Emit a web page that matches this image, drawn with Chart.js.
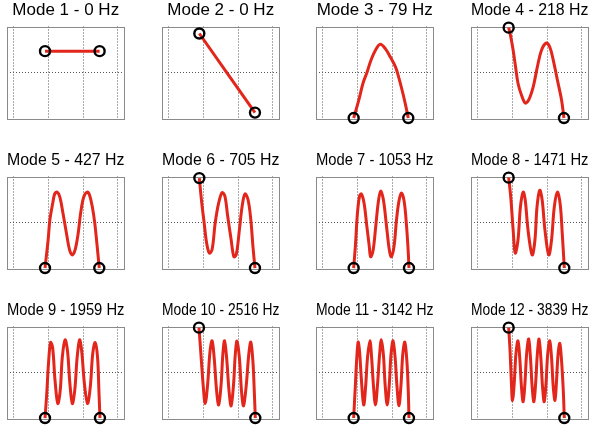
<!DOCTYPE html>
<html><head><meta charset="utf-8">
<script src="https://cdn.jsdelivr.net/npm/chart.js@4/dist/chart.umd.min.js"></script>
<style>
html,body{margin:0;padding:0;background:#fff;width:600px;height:425px;overflow:hidden}
#wrap{position:relative;width:600px;height:425px}
#wrap canvas{position:absolute}
</style></head><body><div id="wrap"></div>
<script>
// ---- data ----
const modeNumbers = [1,2,3,4,5,6,7,8,9,10,11,12];
const modeFreqsHz = [0,0,79,218,427,705,1053,1471,1959,2516,3142,3839];
const xGridTicks = [0,1,2,3];
const yGridTicks = [0];

const shape1 = [[0.90,0.48],[2.48,0.48]];
const shape2 = [[0.88,0.87],[2.49,-0.88]];
const shape3 = [[0.89,-1.0],[1.04,-0.60],[1.16,-0.23],[1.28,0.02],[1.39,0.28],[1.52,0.50],[1.66,0.63],[1.81,0.53],[1.95,0.35],[2.10,0.13],[2.19,-0.09],[2.29,-0.38],[2.38,-0.67],[2.47,-1.0]];
const shape4 = [[0.89,1.0],[0.95,0.80],[1.02,0.50],[1.09,0.13],[1.16,-0.23],[1.26,-0.49],[1.37,-0.67],[1.47,-0.60],[1.60,-0.31],[1.72,0.13],[1.84,0.50],[1.98,0.66],[2.08,0.57],[2.18,0.28],[2.30,-0.16],[2.42,-0.60],[2.49,-1.0]];
const shape5 = [[0.90,-1.0],[0.99,-0.38],[1.04,0.06],[1.12,0.42],[1.18,0.64],[1.25,0.68],[1.33,0.57],[1.42,0.21],[1.52,-0.23],[1.61,-0.60],[1.69,-0.71],[1.77,-0.60],[1.86,-0.23],[1.93,0.21],[2.02,0.57],[2.12,0.68],[2.19,0.61],[2.27,0.35],[2.34,-0.01],[2.40,-0.45],[2.47,-1.0]];
const shape6 = [[0.88,0.99],[0.95,0.44],[1.02,0.0],[1.09,-0.44],[1.17,-0.67],[1.25,-0.59],[1.34,0.0],[1.44,0.44],[1.54,0.67],[1.62,0.59],[1.70,0.15],[1.80,-0.37],[1.88,-0.75],[1.95,-0.70],[2.04,-0.15],[2.12,0.37],[2.20,0.64],[2.29,0.51],[2.37,0.07],[2.43,-0.51],[2.49,-1.0]];
const shape7 = [[0.89,-1.0],[0.94,-0.51],[1.00,0.22],[1.06,0.59],[1.11,0.64],[1.19,0.44],[1.27,-0.07],[1.34,-0.51],[1.38,-0.75],[1.45,-0.62],[1.53,-0.07],[1.60,0.44],[1.67,0.70],[1.75,0.51],[1.84,-0.07],[1.92,-0.59],[1.98,-0.75],[2.06,-0.51],[2.13,0.07],[2.20,0.48],[2.27,0.66],[2.35,0.48],[2.42,-0.07],[2.47,-0.66],[2.49,-1.0]];
const shape8 = [[0.89,1.0],[0.95,0.57],[1.02,-0.16],[1.08,-0.67],[1.16,-0.38],[1.23,0.35],[1.31,0.68],[1.37,0.50],[1.45,-0.16],[1.57,-0.71],[1.65,-0.38],[1.71,0.35],[1.79,0.72],[1.86,0.50],[1.94,-0.16],[2.05,-0.71],[2.13,-0.38],[2.21,0.35],[2.30,0.68],[2.38,0.42],[2.44,-0.23],[2.50,-1.0]];
const shape9 = [[0.90,-1.0],[0.95,-0.46],[1.00,0.20],[1.06,0.67],[1.12,0.56],[1.19,-0.17],[1.27,-0.68],[1.34,-0.39],[1.40,0.34],[1.48,0.73],[1.55,0.49],[1.62,-0.24],[1.69,-0.68],[1.76,-0.39],[1.83,0.34],[1.90,0.73],[1.96,0.49],[2.04,-0.24],[2.13,-0.68],[2.21,-0.31],[2.28,0.42],[2.35,0.67],[2.42,0.34],[2.46,-0.40],[2.49,-1.0]];
const shape10 = [[0.87,1.0],[0.92,0.48],[0.99,-0.26],[1.05,-0.68],[1.12,-0.26],[1.19,0.48],[1.25,0.71],[1.31,0.33],[1.38,-0.40],[1.44,-0.71],[1.51,-0.26],[1.56,0.40],[1.61,0.71],[1.67,0.33],[1.74,-0.40],[1.80,-0.73],[1.87,-0.26],[1.92,0.40],[1.97,0.70],[2.04,0.33],[2.10,-0.40],[2.16,-0.73],[2.24,-0.26],[2.31,0.40],[2.37,0.68],[2.43,0.26],[2.47,-0.40],[2.50,-1.0]];
const shape11 = [[0.89,-1.0],[0.94,-0.26],[0.98,0.33],[1.02,0.68],[1.06,0.48],[1.11,-0.11],[1.18,-0.71],[1.24,-0.26],[1.29,0.33],[1.36,0.71],[1.41,0.33],[1.46,-0.26],[1.52,-0.71],[1.58,-0.26],[1.64,0.40],[1.69,0.73],[1.75,0.40],[1.80,-0.26],[1.86,-0.71],[1.92,-0.26],[1.97,0.40],[2.03,0.71],[2.09,0.33],[2.14,-0.26],[2.20,-0.73],[2.26,-0.26],[2.31,0.40],[2.37,0.68],[2.43,0.26],[2.47,-0.40],[2.49,-1.0]];
const shape12 = [[0.89,1.0],[0.93,0.49],[0.97,-0.24],[1.00,-0.62],[1.05,-0.24],[1.10,0.42],[1.16,0.71],[1.21,0.34],[1.26,-0.31],[1.31,-0.64],[1.36,-0.24],[1.41,0.42],[1.47,0.75],[1.52,0.34],[1.57,-0.31],[1.62,-0.64],[1.67,-0.24],[1.72,0.42],[1.77,0.75],[1.82,0.34],[1.87,-0.31],[1.92,-0.64],[1.97,-0.24],[2.02,0.42],[2.08,0.71],[2.13,0.34],[2.18,-0.31],[2.23,-0.61],[2.27,-0.24],[2.32,0.42],[2.37,0.65],[2.42,0.27],[2.47,-0.39],[2.50,-1.0]];

const shapes = [shape1,shape2,shape3,shape4,shape5,shape6,shape7,shape8,shape9,shape10,shape11,shape12];

// ---- drawing ----
const FONT = "'Liberation Sans', Arial, Helvetica, sans-serif";
const boxPlugin = {
  id: 'axBox',
  beforeDatasetsDraw(chart) {
    const a = chart.chartArea, c = chart.ctx;
    c.save();
    c.strokeStyle = '#8a8a8a';
    c.lineWidth = 1;
    c.strokeRect(Math.round(a.left) + 0.5, Math.round(a.top) + 0.5, Math.round(a.right - a.left) - 1, Math.round(a.bottom - a.top) - 1);
    c.restore();
  }
};

const wrap = document.getElementById('wrap');
const PADL = 16, PADR = 16.5, TITLEH = 26.5, PADB = 6.5;
const BOXW = 117.5, BOXH = 94;
const TSIZE = 17, TTOP = 1.5;

modeNumbers.forEach((m, i) => {
  const r = Math.floor(i / 4), col = i % 4;
  const boxLeft = 7 + 154.5 * col;
  const boxTop = 26.5 + 150 * r;
  const cv = document.createElement('canvas');
  const W = Math.round(PADL + BOXW + PADR), H = Math.round(TITLEH + BOXH + PADB);
  cv.width = W; cv.height = H;
  cv.style.width = W + 'px'; cv.style.height = H + 'px';
  cv.style.left = (boxLeft - PADL) + 'px';
  cv.style.top = (boxTop - TITLEH) + 'px';
  wrap.appendChild(cv);
  const pts = shapes[i].map(p => ({x: p[0], y: p[1]}));
  const ends = [pts[0], pts[pts.length - 1]];
  new Chart(cv, {
    type: 'scatter',
    data: {
      datasets: [
        {data: ends, showLine: false, pointRadius: 5, pointBorderWidth: 2.4,
         pointBorderColor: '#000', pointBackgroundColor: 'rgba(0,0,0,0)', clip: false, order: 0},
        {data: pts, showLine: true, borderColor: '#e2261b', borderWidth: 3,
         pointRadius: 0, tension: 0.35, clip: false, order: 1}
      ]
    },
    options: {
      responsive: false, animation: false, events: [],
      devicePixelRatio: 1,
      layout: {padding: {left: PADL, right: PADR, top: 0, bottom: PADB}},
      plugins: {
        legend: {display: false}, tooltip: {enabled: false},
        title: {display: true, text: 'Mode ' + m + ' - ' + modeFreqsHz[i] + ' Hz',
          color: '#000', font: {family: FONT, size: TSIZE, weight: 'normal', lineHeight: 1},
          padding: {top: TTOP, bottom: TITLEH - TSIZE - TTOP}}
      },
      scales: {
        x: {type: 'linear', min: -0.2, max: 3.2,
            afterBuildTicks: s => { s.ticks = xGridTicks.map(v => ({value: v})); },
            ticks: {display: false},
            grid: {color: '#555', lineWidth: 1, drawTicks: false},
            border: {display: false, dash: [1, 2]}},
        y: {type: 'linear', min: -1.035, max: 1.025,
            afterBuildTicks: s => { s.ticks = yGridTicks.map(v => ({value: v})); },
            ticks: {display: false},
            grid: {color: '#555', lineWidth: 1, drawTicks: false},
            border: {display: false, dash: [1, 2]}}
      }
    },
    plugins: [boxPlugin]
  });
});
</script></body></html>
